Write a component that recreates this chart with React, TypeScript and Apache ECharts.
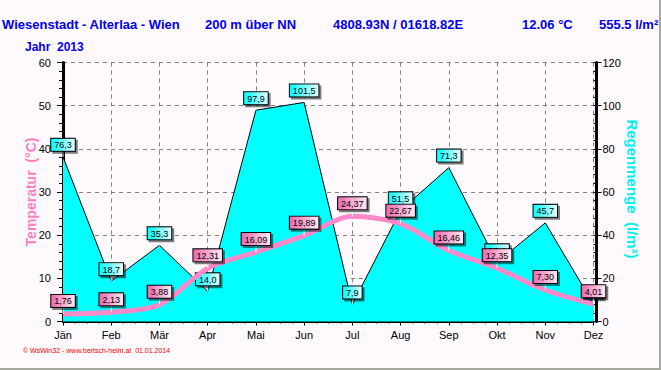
import React, { useEffect, useRef } from "react";
import * as echarts from "echarts";

const months = ["Jän", "Feb", "Mär", "Apr", "Mai", "Jun", "Jul", "Aug", "Sep", "Okt", "Nov", "Dez"];
const temperature = [1.76, 2.13, 3.88, 12.31, 16.09, 19.89, 24.37, 22.67, 16.46, 12.35, 7.3, 4.01];
const rainfall = [76.3, 18.7, 35.3, 14.0, 97.9, 101.5, 7.9, 51.5, 71.3, 27.4, 45.7, 8.0];
const tempAxis = { min: 0, max: 60, interval: 10 };
const rainAxis = { min: 0, max: 120, interval: 20 };
const headerTexts = [
  { text: "Wiesenstadt - Alterlaa - Wien", x: 2 },
  { text: "200 m über NN", x: 205 },
  { text: "4808.93N / 01618.82E", x: 333 },
  { text: "12.06 °C", x: 522 },
  { text: "555.5 l/m²", x: 599 },
];
const yearText = "Jahr  2013";
const footerText = "© WsWin32 - www.bertsch-heim.at  01.01.2014";

const FONT = "'Liberation Sans', Arial, sans-serif";

export default function App() {
  const ref = useRef<HTMLDivElement>(null);
  useEffect(() => {
    if (!ref.current) return;
    const chart = echarts.init(ref.current, undefined, { renderer: "svg" });
    const pinkGrad = new echarts.graphic.LinearGradient(0, 0, 1, 0, [
      { offset: 0, color: "#f068ac" },
      { offset: 1, color: "#ffe8f4" },
    ]);
    const cyanGrad = new echarts.graphic.LinearGradient(0, 0, 1, 0, [
      { offset: 0, color: "#00ffff" },
      { offset: 1, color: "#e4ffff" },
    ]);
    const labelBase = {
      show: true,
      position: "top",
      distance: 0,
      fontSize: 9,
      fontFamily: FONT,
      color: "#000",
      borderColor: "#000",
      borderWidth: 1,
      padding: [2, 3, 1, 3],
      lineHeight: 9,
      shadowColor: "rgba(0,0,0,0.5)",
      shadowOffsetX: 2,
      shadowOffsetY: 2,
      shadowBlur: 0,
    };
    const graphics: any[] = headerTexts.map((h) => ({
      type: "text",
      left: h.x,
      top: 18,
      style: { text: h.text, fill: "#0000f0", font: `bold 13px ${FONT}` },
    }));
    graphics.push({
      type: "text",
      left: 25,
      top: 41,
      style: { text: yearText, fill: "#0000f0", font: `bold 12px ${FONT}` },
    });
    graphics.push({
      type: "text",
      x: 31,
      y: 192,
      rotation: Math.PI / 2,
      style: {
        text: "Temperatur  (°C)",
        fill: "#ff80c0",
        font: `bold 14px ${FONT}`,
        align: "center",
        verticalAlign: "middle",
      },
    });
    graphics.push({
      type: "text",
      x: 632,
      y: 189,
      rotation: -Math.PI / 2,
      style: {
        text: "Regenmenge  (l/m³)",
        fill: "#00f0f0",
        font: `bold 15px ${FONT}`,
        align: "center",
        verticalAlign: "middle",
      },
    });
    graphics.push({
      type: "text",
      left: 23,
      top: 347,
      style: { text: footerText, fill: "#ff0000", font: `7px ${FONT}` },
    });
    graphics.push({ type: "rect", shape: { x: 0, y: 368, width: 661, height: 2 }, style: { fill: "#a8a8a0" } });
    graphics.push({ type: "rect", shape: { x: 659, y: 0, width: 2, height: 370 }, style: { fill: "#a8a8a0" } });

    chart.setOption({
      animation: false,
      backgroundColor: "#fdf9fd",
      textStyle: { fontFamily: FONT },
      grid: { left: 63, right: 67.5, top: 62.5, bottom: 48.5, containLabel: false },
      graphic: graphics,
      xAxis: [
        {
          type: "category",
          data: months,
          boundaryGap: false,
          position: "bottom",
          axisLine: { show: true, lineStyle: { color: "#000", width: 2 } },
          axisTick: { show: true, length: 4, lineStyle: { color: "#000" } },
          axisLabel: { fontSize: 11, color: "#000", margin: 8, fontFamily: FONT },
          splitLine: { show: true, lineStyle: { color: "#808080", type: [4, 4], width: 1 } },
        },
        {
          type: "value",
          min: 0,
          max: 11,
          interval: 0.25,
          position: "bottom",
          axisLine: { show: false },
          axisTick: { show: true, length: 2, lineStyle: { color: "#000" } },
          axisLabel: { show: false },
          splitLine: { show: false },
        },
        {
          type: "category",
          data: months,
          boundaryGap: false,
          position: "top",
          axisLine: { show: true, lineStyle: { color: "#000", width: 1 } },
          axisTick: { show: false },
          axisLabel: { show: false },
          splitLine: { show: false },
        },
      ],
      yAxis: [
        {
          type: "value",
          position: "left",
          offset: 4,
          min: tempAxis.min,
          max: tempAxis.max,
          interval: tempAxis.interval,
          axisLine: { show: true, lineStyle: { color: "#000", width: 3 } },
          axisTick: { show: true, length: 6, lineStyle: { color: "#000" } },
          axisLabel: { fontSize: 11, color: "#000", margin: 8, fontFamily: FONT },
          splitLine: { show: true, lineStyle: { color: "#808080", type: [4, 4], width: 1 } },
        },
        {
          type: "value",
          position: "right",
          offset: 3,
          min: rainAxis.min,
          max: rainAxis.max,
          interval: rainAxis.interval,
          axisLine: { show: true, lineStyle: { color: "#000", width: 3 } },
          axisTick: { show: true, length: 5, lineStyle: { color: "#000" } },
          axisLabel: { fontSize: 11, color: "#000", margin: 6, fontFamily: FONT },
          splitLine: { show: false },
        },
        {
          type: "value",
          position: "left",
          offset: 4,
          min: tempAxis.min,
          max: tempAxis.max,
          interval: 2,
          axisLine: { show: false },
          axisTick: { show: true, inside: true, length: 3, lineStyle: { color: "#000" } },
          axisLabel: { show: false },
          splitLine: { show: false },
        },
        {
          type: "value",
          position: "right",
          offset: 3,
          min: rainAxis.min,
          max: rainAxis.max,
          interval: 4,
          axisLine: { show: false },
          axisTick: { show: true, inside: true, length: 3, lineStyle: { color: "#000" } },
          axisLabel: { show: false },
          splitLine: { show: false },
        },
      ],
      series: [
        {
          name: "Regenmenge",
          type: "line",
          xAxisIndex: 0,
          yAxisIndex: 1,
          data: rainfall,
          symbol: "rect",
          symbolSize: [1, 6],
          symbolOffset: [0, -3],
          showAllSymbol: true,
          itemStyle: { color: "#ffffff" },
          lineStyle: { color: "#000", width: 1 },
          areaStyle: { color: "#00ffff", opacity: 1 },
          z: 2,
          label: {
            ...labelBase,
            backgroundColor: cyanGrad,
            formatter: (p: any) => Number(p.value).toFixed(1).replace(".", ","),
          },
        },
        {
          name: "Temperatur",
          type: "line",
          xAxisIndex: 0,
          yAxisIndex: 0,
          data: temperature,
          smooth: 0.3,
          symbol: "rect",
          symbolSize: [1, 7],
          symbolOffset: [0, -3.5],
          showAllSymbol: true,
          itemStyle: { color: "#ffffff" },
          lineStyle: { color: "#ff88c8", width: 5 },
          z: 3,
          label: {
            ...labelBase,
            backgroundColor: pinkGrad,
            formatter: (p: any) => Number(p.value).toFixed(2).replace(".", ","),
          },
        },
      ],
    });
    return () => chart.dispose();
  }, []);
  return (
    <div
      ref={ref}
      style={{ position: "absolute", left: 0, top: 0, width: 661, height: 370 }}
    />
  );
}
